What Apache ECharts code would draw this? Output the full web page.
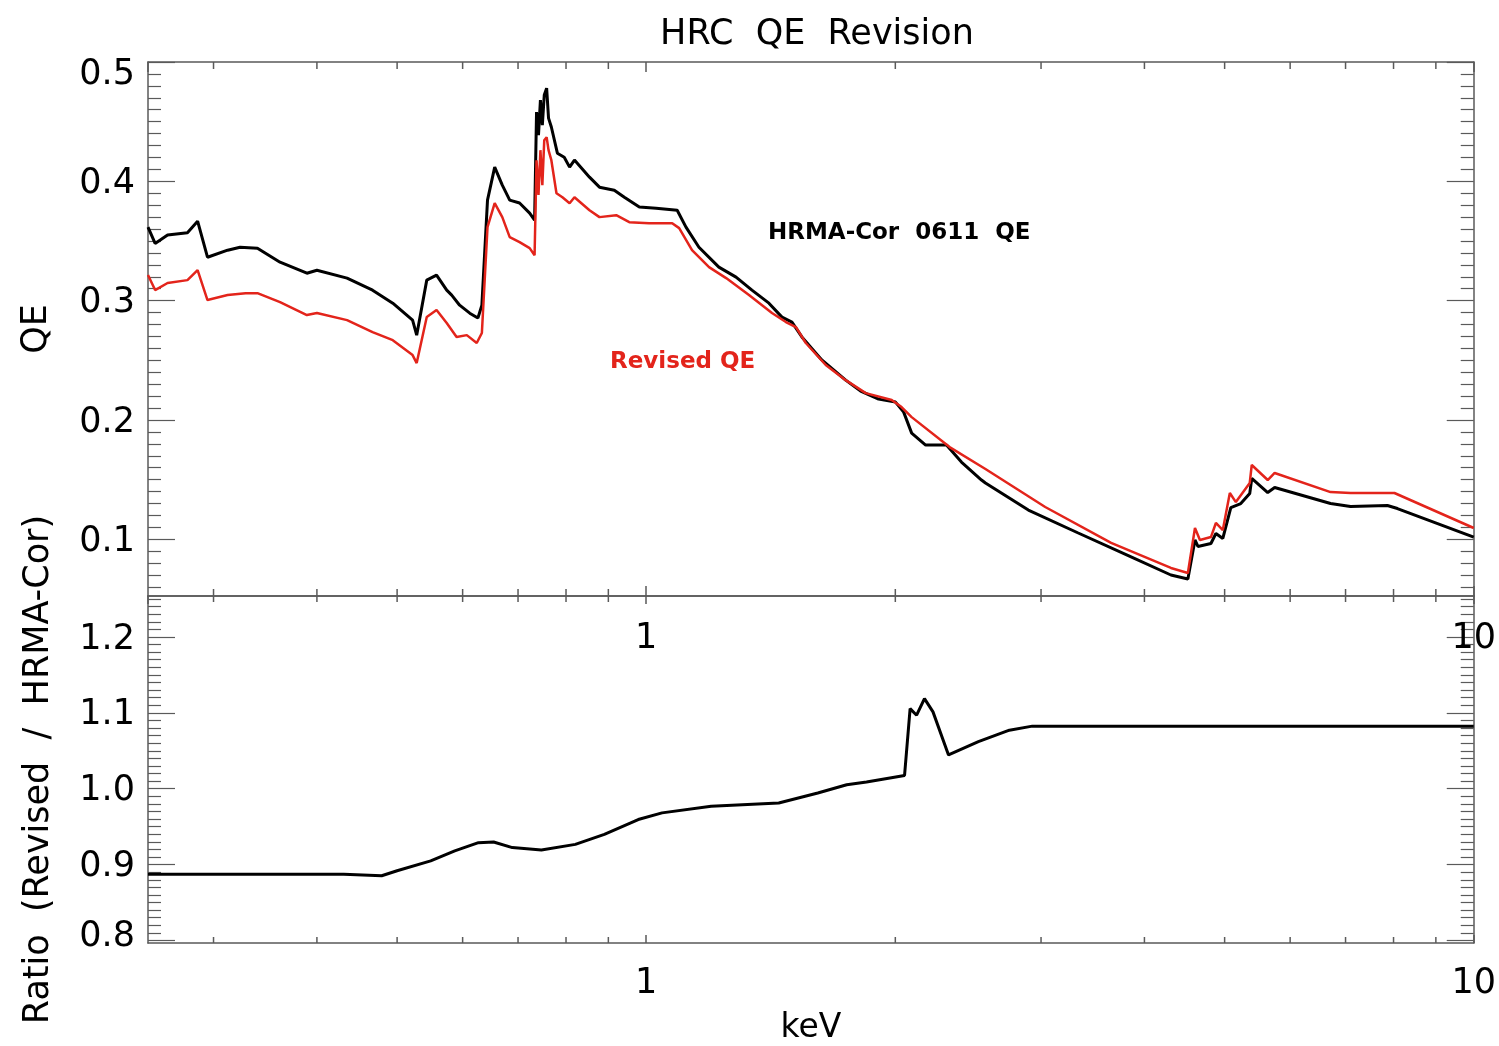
<!DOCTYPE html>
<html>
<head>
<meta charset="utf-8">
<title>HRC QE Revision</title>
<script src="https://cdn.jsdelivr.net/npm/echarts@6/dist/echarts.min.js"></script>
<style>
  html, body { margin: 0; padding: 0; background: #fff; }
  #chart { width: 1499px; height: 1046px; }
</style>
</head>
<body>
<div id="chart"></div>
<script>
// HRMA-Cor 0611 QE curve: photon energy (keV) and quantum efficiency
const hrmaEnergy = [0.250,0.255,0.264,0.279,0.287,0.295,0.312,0.323,0.339,0.361,0.389,0.400,0.435,0.467,0.494,0.522,0.528,0.543,0.558,0.574,0.582,0.595,0.612,0.626,0.633,0.643,0.656,0.670,0.684,0.703,0.723,0.733,0.737,0.741,0.745,0.749,0.753,0.758,0.762,0.768,0.781,0.796,0.808,0.819,0.854,0.878,0.915,0.941,0.981,1.028,1.090,1.117,1.158,1.224,1.284,1.342,1.407,1.459,1.500,1.542,1.630,1.742,1.816,1.909,2.001,2.047,2.093,2.176,2.306,2.404,2.542,2.570,2.896,3.327,3.854,4.306,4.514,4.530,4.604,4.642,4.813,4.880,4.975,5.087,5.230,5.362,5.392,5.637,5.747,6.714,7.098,7.865,8.087,10.0];
const hrmaQE = [0.3616,0.3480,0.3550,0.3570,0.3666,0.3364,0.3423,0.3448,0.3440,0.3322,0.3230,0.3255,0.3189,0.3088,0.2979,0.2837,0.2711,0.3172,0.3214,0.3088,0.3046,0.2962,0.2895,0.2854,0.2962,0.3843,0.4119,0.3968,0.3843,0.3818,0.3734,0.3675,0.4580,0.4387,0.4681,0.4471,0.4723,0.4781,0.4530,0.4455,0.4236,0.4202,0.4119,0.4178,0.4035,0.3951,0.3926,0.3867,0.3784,0.3775,0.3758,0.3616,0.3448,0.3281,0.3197,0.3088,0.2979,0.2862,0.2820,0.2696,0.2503,0.2334,0.2242,0.2175,0.2150,0.2066,0.1890,0.1790,0.1790,0.1647,0.1497,0.1472,0.1245,0.1053,0.0852,0.0701,0.0668,0.0665,0.0995,0.0940,0.0965,0.1049,0.1007,0.1266,0.1300,0.1384,0.1510,0.1392,0.1434,0.1300,0.1275,0.1283,0.1258,0.1019];

// Revised QE curve
const revisedEnergy = [0.250,0.255,0.264,0.279,0.287,0.295,0.312,0.328,0.339,0.361,0.389,0.400,0.435,0.467,0.494,0.522,0.528,0.543,0.558,0.574,0.590,0.607,0.624,0.633,0.643,0.656,0.670,0.684,0.703,0.723,0.733,0.737,0.741,0.745,0.749,0.753,0.758,0.762,0.768,0.779,0.792,0.808,0.819,0.854,0.878,0.920,0.954,1.008,1.075,1.096,1.136,1.191,1.249,1.331,1.419,1.475,1.517,1.559,1.648,1.742,1.842,1.980,2.035,2.093,2.326,2.570,3.035,3.646,4.306,4.514,4.604,4.668,4.813,4.880,4.975,5.073,5.159,5.362,5.392,5.637,5.747,6.714,7.098,8.020,10.0];
const revisedQE = [0.3215,0.3089,0.3148,0.3172,0.3256,0.3005,0.3047,0.3063,0.3063,0.2988,0.2879,0.2896,0.2837,0.2737,0.2669,0.2544,0.2477,0.2863,0.2921,0.2812,0.2695,0.2711,0.2645,0.2729,0.3616,0.3817,0.3700,0.3532,0.3490,0.3440,0.3381,0.4177,0.3885,0.4261,0.3968,0.4345,0.4370,0.4261,0.4177,0.3900,0.3867,0.3817,0.3867,0.3758,0.3700,0.3716,0.3658,0.3649,0.3649,0.3608,0.3423,0.3281,0.3189,0.3047,0.2896,0.2821,0.2779,0.2645,0.2461,0.2334,0.2225,0.2167,0.2108,0.2024,0.1773,0.1589,0.1271,0.0970,0.0760,0.0718,0.1095,0.0994,0.1019,0.1137,0.1078,0.1388,0.1312,0.1472,0.1623,0.1497,0.1556,0.1396,0.1388,0.1388,0.1095];

// Ratio Revised / HRMA-Cor
const ratioEnergy = [0.250,0.431,0.479,0.500,0.549,0.587,0.627,0.654,0.689,0.747,0.821,0.890,0.978,1.045,1.198,1.446,1.612,1.747,1.846,2.052,2.084,2.122,2.169,2.221,2.319,2.520,2.747,2.928,10.0];
const ratioValue = [0.8874,0.8874,0.8853,0.8919,0.9050,0.9181,0.9289,0.9298,0.9224,0.9194,0.9267,0.9398,0.9594,0.9682,0.9770,0.9813,0.9944,1.0052,1.0088,1.0175,1.1056,1.0969,1.1187,1.1013,1.0445,1.0620,1.0772,1.0825,1.0825];

// Axis ranges and tick values
const energyRange = [0.25, 10];
const qeRange = [0.0525, 0.5];
const ratioRange = [0.7967, 1.254];
const qeTicks = [0.1, 0.2, 0.3, 0.4, 0.5];
const ratioTicks = [0.8, 0.9, 1.0, 1.1, 1.2];
const energyMinorTicks = [0.3, 0.4, 0.5, 0.6, 0.7, 0.8, 0.9, 2, 3, 4, 5, 6, 7, 8, 9];

const FONT = 'DejaVu Sans';
const FRAME = '#5a5a5a';
const RED = '#e3241b';

// hundredth-step minor ticks between the labelled ones
function hundredths(lo, hi, majors) {
  const out = [];
  for (let k = Math.ceil(lo * 100); k <= Math.floor(hi * 100); k++) {
    const v = k / 100;
    if (!majors.some(m => Math.abs(m - v) < 1e-9)) out.push(v);
  }
  return out;
}
const qeMinorTicks = hundredths(qeRange[0], qeRange[1], qeTicks);
const ratioMinorTicks = hundredths(ratioRange[0], ratioRange[1], ratioTicks);

const labelStyle = { fontFamily: FONT, fontSize: 35, color: '#000' };
const edgeRich = {
  n: { fontFamily: FONT, fontSize: 35, color: '#000', padding: [5, 0, 0, 0] },
  top: { fontFamily: FONT, fontSize: 35, color: '#000', padding: [26, 0, 0, 0] },
  bot: { fontFamily: FONT, fontSize: 35, color: '#000', padding: [0, 0, 8, 0] }
};

function energyAxis(grid, position, opts) {
  return Object.assign({
    type: 'log', logBase: 10, gridIndex: grid, position: position,
    min: energyRange[0], max: energyRange[1],
    axisLine: { show: true, onZero: false, lineStyle: { color: FRAME, width: 1.5 } },
    axisTick: { show: true, inside: true, length: 10, lineStyle: { color: FRAME, width: 1.5 } },
    axisLabel: { show: false },
    splitLine: { show: false }
  }, opts);
}

function valueAxis(grid, position, range, ticks, len, showLine, opts) {
  return Object.assign({
    type: 'value', gridIndex: grid, position: position,
    min: range[0], max: range[1],
    axisLine: { show: showLine, onZero: false, lineStyle: { color: FRAME, width: 1.5 } },
    axisTick: { show: true, inside: true, length: len, customValues: ticks,
                lineStyle: { color: FRAME, width: 1.2 } },
    axisLabel: { show: false },
    splitLine: { show: false }
  }, opts);
}

// short ticks on the log energy axes at 2..9 of each decade
function minorTickSeries(xi, yi, range, len) {
  return {
    type: 'custom', xAxisIndex: xi, yAxisIndex: yi, silent: true, clip: false,
    data: energyMinorTicks.map(v => [v, range[0]]),
    encode: { x: 0, y: 1 },
    renderItem(params, api) {
      const lo = api.coord([api.value(0), range[0]]);
      const hi = api.coord([api.value(0), range[1]]);
      const st = { stroke: FRAME, lineWidth: 1.5 };
      return {
        type: 'group',
        children: [
          { type: 'line', shape: { x1: lo[0], y1: lo[1], x2: lo[0], y2: lo[1] - len }, style: st },
          { type: 'line', shape: { x1: hi[0], y1: hi[1], x2: hi[0], y2: hi[1] + len }, style: st }
        ]
      };
    }
  };
}

const decadeLabel = v => (Math.abs(v - 1) < 1e-9 ? '1' : Math.abs(v - 10) < 1e-9 ? '10' : '');
// the topmost and bottommost y labels sit a little inside the frame
function yLabel(topVal, botVal) {
  return v => {
    const s = v.toFixed(1);
    if (Math.abs(v - topVal) < 1e-9) return '{top|' + s + '}';
    if (Math.abs(v - botVal) < 1e-9) return '{bot|' + s + '}';
    return '{n|' + s + '}';
  };
}

const chart = echarts.init(document.getElementById('chart'), null, { renderer: 'canvas' });
chart.setOption({
  animation: false,
  backgroundColor: '#fff',
  title: {
    text: 'HRC  QE  Revision', left: 812, top: 12, textAlign: 'center',
    textStyle: { fontFamily: FONT, fontSize: 35, fontWeight: 'normal', color: '#000' }
  },
  grid: [
    { left: 148, right: 23, top: 62, height: 534 },
    { left: 148, right: 23, top: 596, height: 349 }
  ],
  xAxis: [
    energyAxis(0, 'bottom', {
      axisLabel: Object.assign({ show: true, margin: 25, showMinLabel: false, formatter: decadeLabel }, labelStyle)
    }),
    energyAxis(0, 'top', {}),
    energyAxis(1, 'bottom', {
      axisTick: { show: true, inside: true, length: 8, lineStyle: { color: FRAME, width: 1.5 } },
      axisLabel: Object.assign({ show: true, margin: 23, showMinLabel: false, formatter: decadeLabel }, labelStyle),
      name: 'keV', nameLocation: 'middle', nameGap: 69,
      nameTextStyle: { fontFamily: FONT, fontSize: 33, color: '#000' }
    }),
    energyAxis(1, 'top', {
      axisTick: { show: true, inside: true, length: 8, lineStyle: { color: FRAME, width: 1.5 } }
    })
  ],
  yAxis: [
    valueAxis(0, 'left', qeRange, qeTicks, 27, true, {
      axisLabel: { show: true, margin: 13, customValues: qeTicks,
                   formatter: yLabel(0.5, -1), rich: edgeRich },
      name: 'QE', nameLocation: 'middle', nameGap: 94,
      nameTextStyle: { fontFamily: FONT, fontSize: 35, color: '#000' }
    }),
    valueAxis(0, 'left', qeRange, qeMinorTicks, 13, false, {}),
    valueAxis(0, 'right', qeRange, qeTicks, 27, true, {}),
    valueAxis(0, 'right', qeRange, qeMinorTicks, 13, false, {}),
    valueAxis(1, 'left', ratioRange, ratioTicks, 27, true, {
      axisLabel: { show: true, margin: 13, customValues: ratioTicks,
                   formatter: yLabel(-1, 0.8), rich: edgeRich },
      name: 'Ratio  (Revised  /  HRMA-Cor)', nameLocation: 'middle', nameGap: 92,
      nameTextStyle: { fontFamily: FONT, fontSize: 35, color: '#000' }
    }),
    valueAxis(1, 'left', ratioRange, ratioMinorTicks, 13, false, {}),
    valueAxis(1, 'right', ratioRange, ratioTicks, 27, true, {}),
    valueAxis(1, 'right', ratioRange, ratioMinorTicks, 13, false, {})
  ],
  series: [
    minorTickSeries(0, 0, qeRange, 7),
    minorTickSeries(2, 4, ratioRange, 6),
    {
      name: 'HRMA-Cor 0611 QE', type: 'line', xAxisIndex: 0, yAxisIndex: 0,
      data: hrmaEnergy.map((e, i) => [e, hrmaQE[i]]),
      showSymbol: false, symbol: 'none',
      lineStyle: { color: '#000', width: 3 }
    },
    {
      name: 'Revised QE', type: 'line', xAxisIndex: 0, yAxisIndex: 0,
      data: revisedEnergy.map((e, i) => [e, revisedQE[i]]),
      showSymbol: false, symbol: 'none',
      lineStyle: { color: RED, width: 2.5 }
    },
    {
      name: 'Ratio', type: 'line', xAxisIndex: 2, yAxisIndex: 4,
      data: ratioEnergy.map((e, i) => [e, ratioValue[i]]),
      showSymbol: false, symbol: 'none',
      lineStyle: { color: '#000', width: 3 }
    }
  ],
  graphic: [
    { type: 'text', left: 768, top: 222,
      style: { text: 'HRMA-Cor  0611  QE', fontFamily: FONT, fontSize: 23, fontWeight: 'bold', fill: '#000' } },
    { type: 'text', left: 610, top: 351,
      style: { text: 'Revised QE', fontFamily: FONT, fontSize: 23, fontWeight: 'bold', fill: RED } }
  ]
});
</script>
</body>
</html>
